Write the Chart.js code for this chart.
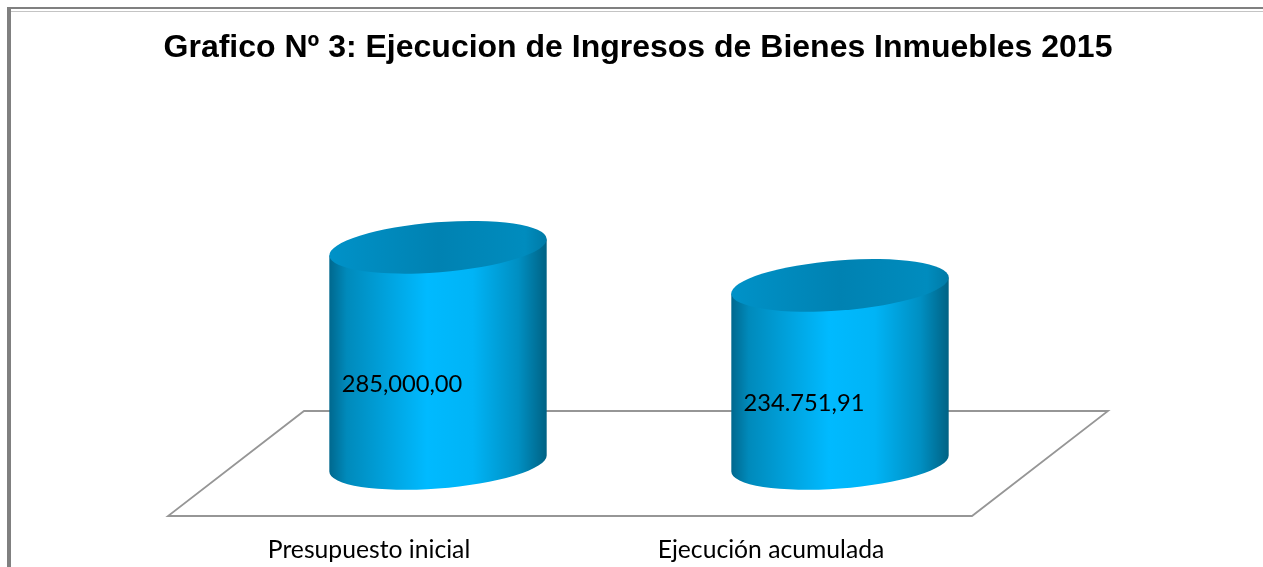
<!DOCTYPE html>
<html>
<head>
<meta charset="utf-8">
<title>Grafico 3</title>
<script src="https://cdn.jsdelivr.net/npm/chart.js@4"></script>
<style>
  html, body { margin: 0; padding: 0; background: #fff; overflow: hidden; }
  #frame { position: absolute; left: 7px; top: 7px; right: 0; bottom: 0; border-top: 2px solid #808080; border-left: 4px solid #808080; }
  #frame:before { content: ""; position: absolute; left: 0; right: 0; top: 2px; height: 1px; background: #c4c4c4; }
  #wrap { position: absolute; left: 13px; top: 0; width: 1250px; height: 567px; }
</style>
</head>
<body>
<div id="frame"></div>
<div id="wrap"><canvas id="grafico" width="1250" height="567"></canvas></div>
<script>
var categorias = ['Presupuesto inicial', 'Ejecución acumulada'];
var valores = [285000, 234751.91];
var etiquetas = ['285,000,00', '234.751,91'];
var titulo = 'Grafico Nº 3: Ejecucion de Ingresos de Bienes Inmuebles 2015';

// profundidad del piso 3D
var fondoX = 136, fondoY = -105;
var giro = -4.5 * Math.PI / 180;

var cilindros = {
    id: 'cilindros',
    beforeDatasetsDraw: function(chart) {
        var ctx = chart.ctx, a = chart.chartArea;
        ctx.save();
        ctx.strokeStyle = '#969696';
        ctx.lineWidth = 1.8;
        ctx.beginPath();
        ctx.moveTo(a.left, a.bottom);
        ctx.lineTo(a.right, a.bottom);
        ctx.lineTo(a.right + fondoX, a.bottom + fondoY);
        ctx.lineTo(a.left + fondoX, a.bottom + fondoY);
        ctx.closePath();
        ctx.stroke();
        ctx.restore();
    },
    afterDatasetsDraw: function(chart) {
        var ctx = chart.ctx;
        chart.getDatasetMeta(0).data.forEach(function(bar, i) {
            var cx = bar.x + fondoX / 2 + 1;
            var rx = bar.width / 2;
            var ry = 25;
            var arriba = bar.y + fondoY / 2;
            var abajo = bar.base + fondoY / 2;
            var t0 = Math.atan2(-ry * Math.sin(giro), rx * Math.cos(giro));
            var dx = rx * Math.cos(t0) * Math.cos(giro) - ry * Math.sin(t0) * Math.sin(giro);
            var dy = rx * Math.cos(t0) * Math.sin(giro) + ry * Math.sin(t0) * Math.cos(giro);

            // cuerpo
            var g = ctx.createLinearGradient(cx - dx, 0, cx + dx, 0);
            g.addColorStop(0, '#00688e');
            g.addColorStop(0.08, '#008abb');
            g.addColorStop(0.28, '#00a4e0');
            g.addColorStop(0.45, '#00baff');
            g.addColorStop(0.66, '#00b4f6');
            g.addColorStop(0.87, '#008fc2');
            g.addColorStop(1, '#006284');
            ctx.save();
            ctx.fillStyle = g;
            ctx.beginPath();
            ctx.moveTo(cx - dx, arriba - dy);
            ctx.lineTo(cx - dx, abajo - dy);
            ctx.ellipse(cx, abajo, rx, ry, giro, t0 + Math.PI, t0, true);
            ctx.lineTo(cx + dx, arriba + dy);
            ctx.closePath();
            ctx.fill();

            // tapa
            var g2 = ctx.createLinearGradient(cx - dx, 0, cx + dx, 0);
            g2.addColorStop(0, '#0092c8');
            g2.addColorStop(0.5, '#0082b2');
            g2.addColorStop(0.9, '#008cbe');
            g2.addColorStop(1, '#007aa6');
            ctx.fillStyle = g2;
            ctx.beginPath();
            ctx.ellipse(cx, arriba, rx, ry, giro, 0, Math.PI * 2);
            ctx.fill();

            // etiqueta de valor
            ctx.fillStyle = '#000';
            ctx.font = '23.7px Lato';
            ctx.textAlign = 'center';
            ctx.textBaseline = 'middle';
            ctx.fillText(etiquetas[i], bar.x + 33, (bar.y + bar.base) / 2 - 24);
            ctx.restore();
        });
    }
};

document.addEventListener('DOMContentLoaded', function() {
    var ctx = document.getElementById('grafico').getContext('2d');
    new Chart(ctx, {
        type: 'bar',
        data: {
            labels: categorias,
            datasets: [{
                data: valores,
                backgroundColor: 'rgba(0, 0, 0, 0)',
                categoryPercentage: 1,
                barPercentage: 0.5423
            }]
        },
        options: {
            responsive: false,
            animation: false,
            scales: {
                x: {
                    grid: { display: false },
                    border: { display: false },
                    ticks: { color: '#000', font: { family: 'Lato', size: 24.7 }, padding: 11, maxRotation: 0 },
                    afterFit: function(s) { s.height = 51; }
                },
                // ejes invisibles, solo reservan el margen lateral
                y: {
                    min: 0,
                    max: 300000,
                    grid: { display: false },
                    border: { display: false },
                    ticks: { display: false },
                    afterFit: function(s) { s.width = 155; }
                },
                margen: {
                    position: 'right',
                    grid: { display: false },
                    border: { display: false },
                    ticks: { display: false },
                    afterFit: function(s) { s.width = 291; }
                }
            },
            plugins: {
                legend: { display: false },
                tooltip: { enabled: false },
                title: {
                    display: true,
                    text: titulo,
                    color: '#000',
                    font: { family: 'Liberation Sans', size: 32, weight: 'bold' },
                    padding: { top: 29, bottom: 221 }
                }
            }
        },
        plugins: [cilindros]
    });
});
</script>
</body>
</html>
